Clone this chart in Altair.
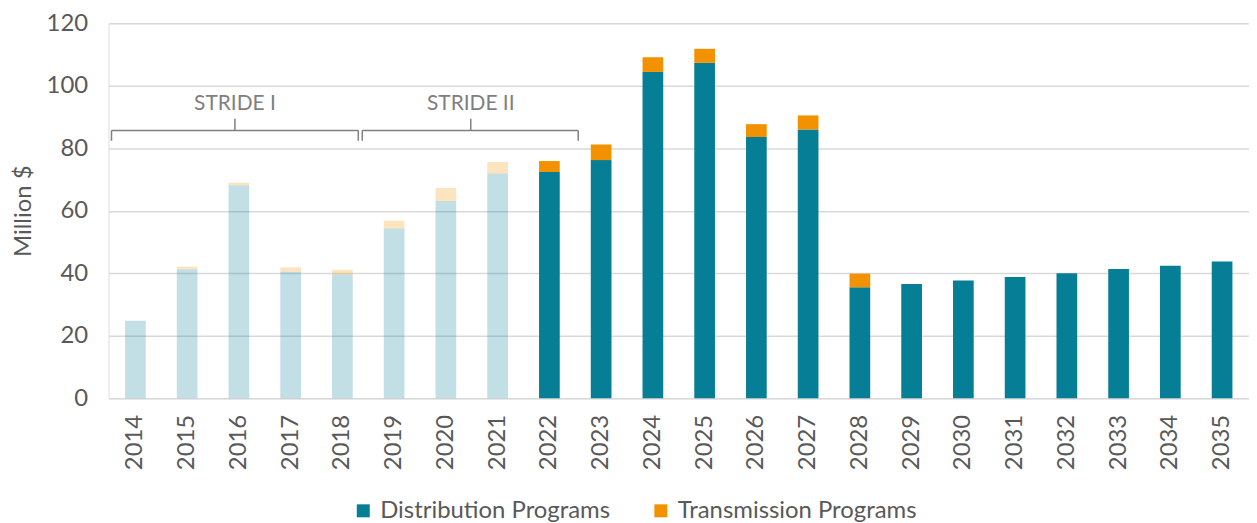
import altair as alt
import pandas as pd

years = [2014, 2015, 2016, 2017, 2018, 2019, 2020, 2021, 2022, 2023, 2024,
         2025, 2026, 2027, 2028, 2029, 2030, 2031, 2032, 2033, 2034, 2035]
distribution = [24.8, 41.3, 68.2, 40.5, 39.6, 54.3, 63.1, 71.9, 72.4, 76.2, 104.4,
                107.3, 83.6, 86.0, 35.5, 36.6, 37.7, 38.8, 40.0, 41.4, 42.4, 43.8]
transmission = [0.0, 0.8, 0.8, 1.4, 1.5, 2.5, 4.2, 3.7, 3.5, 5.0, 4.7,
                 4.5, 4.1, 4.5, 4.4, 0.0, 0.0, 0.0, 0.0, 0.0, 0.0, 0.0]
last_historical_year = 2021
series_names = ["Distribution Programs", "Transmission Programs"]
series_colors = ["#067F96", "#F39200"]
period_labels = ["STRIDE I", "STRIDE II"]

rows = []
for i, y in enumerate(years):
    phase = "historical" if y <= last_historical_year else "plan"
    rows.append({"year": str(y), "program": series_names[0], "value": distribution[i], "order": 0, "phase": phase})
    rows.append({"year": str(y), "program": series_names[1], "value": transmission[i], "order": 1, "phase": phase})
df = pd.DataFrame(rows)

FONT = "Lato"
GRAY = "#595959"
ANN = "#7F7F7F"

bars = alt.Chart(df).mark_bar().encode(
    x=alt.X("year:O", sort=[str(y) for y in years],
            scale=alt.Scale(paddingInner=0.6, paddingOuter=0.32),
            axis=alt.Axis(title=None, labelAngle=-90, labelFontSize=24, labelColor=GRAY,
                          labelFont=FONT, ticks=False, domain=False, labelPadding=16,
                          labelBaseline="middle", labelAlign="right")),
    y=alt.Y("value:Q", stack="zero",
            scale=alt.Scale(domain=[0, 120], nice=False),
            axis=alt.Axis(title="Million $", values=[0, 20, 40, 60, 80, 100, 120],
                          labelFontSize=24, labelColor=GRAY, labelFont=FONT,
                          titleFontSize=24, titleColor=GRAY, titleFont=FONT, titleFontWeight="normal",
                          titlePadding=11, ticks=False, domain=False, labelPadding=21,
                          gridColor="#D9D9D9", gridWidth=1.5)),
    color=alt.Color("program:N", scale=alt.Scale(domain=series_names, range=series_colors),
                    legend=alt.Legend(title=None, orient="none", direction="horizontal",
                                      legendX=244, legendY=478, symbolType="square",
                                      symbolSize=170, symbolStrokeWidth=0,
                                      labelFontSize=24, labelColor=GRAY, labelFont=FONT,
                                      labelLimit=0, columnPadding=38, labelOffset=5, padding=0)),
    opacity=alt.Opacity("phase:N", scale=alt.Scale(domain=["historical", "plan"], range=[0.25, 1.0]),
                        legend=None),
    order=alt.Order("order:Q"),
)

# STRIDE bracket annotations (pixel offsets from the plot's left edge)
bracket_x0 = [3, 255]
bracket_x1 = [251, 472]
bracket_xc = [127, 364]


def bracket_layers(x0, x1, xc, label):
    base = alt.Chart(pd.DataFrame({"a": [0]}))
    style = dict(color=ANN, strokeWidth=1.5)
    h = base.mark_rule(**style).encode(x=alt.value(x0), x2=alt.value(x1), y=alt.datum(85.7))
    l = base.mark_rule(**style).encode(x=alt.value(x0), y=alt.datum(85.7), y2=alt.datum(82.4))
    r = base.mark_rule(**style).encode(x=alt.value(x1), y=alt.datum(85.7), y2=alt.datum(82.4))
    c = base.mark_rule(**style).encode(x=alt.value(xc), y=alt.datum(85.7), y2=alt.datum(89.4))
    t = base.mark_text(font=FONT, fontSize=21, color=ANN, baseline="alphabetic",
                       align="center").encode(x=alt.value(xc), y=alt.datum(92.2),
                                              text=alt.value(label))
    return [h, l, r, c, t]


layers = [bars]
for x0, x1, xc, lab in zip(bracket_x0, bracket_x1, bracket_xc, period_labels):
    layers += bracket_layers(x0, x1, xc, lab)

chart = alt.layer(*layers).properties(
    width=1146, height=377,
    autosize=alt.AutoSizeParams(type="none"),
    padding={"left": 101, "top": 14, "right": 0, "bottom": 124},
).configure_view(strokeWidth=0).configure(font=FONT)

chart.save("out.html", embed_options={"renderer": "svg", "actions": False})
